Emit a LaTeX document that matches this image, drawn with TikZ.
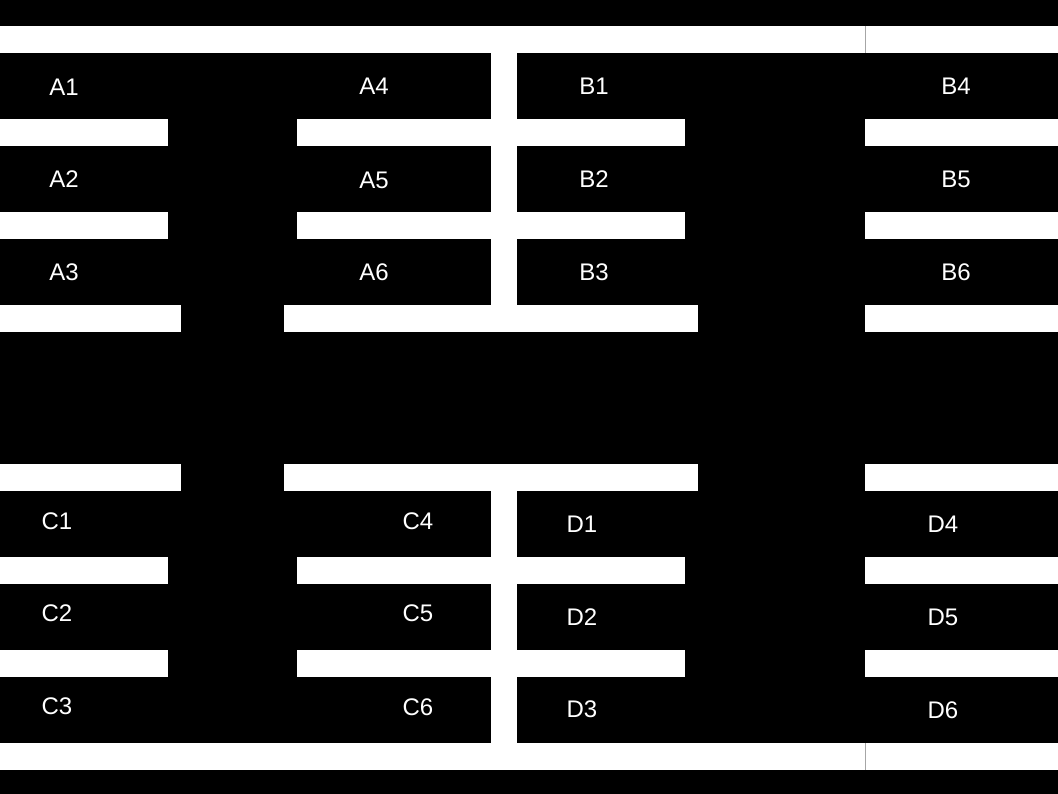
\documentclass[tikz,border=0pt]{standalone}
\usepackage{fontspec}
\setmainfont{Liberation Sans}
\tikzset{
  wall/.style={fill=white, draw=none},
  room/.style={text=white, font=\fontsize{24}{28}\selectfont, inner sep=0pt}
}
\begin{document}
\begin{tikzpicture}[x=1pt, y=-1pt]
  \fill[black] (0,0) rectangle (1058,794);
  \useasboundingbox (0,0) rectangle (1058,794);

  % outer walls and central spine
  \fill[wall] (0,26) rectangle (1058,53);
  \fill[wall] (0,743) rectangle (1058,770);
  \fill[wall] (491,53) rectangle (517,305);
  \fill[wall] (491,491) rectangle (517,743);
  \draw[gray!70, thin] (865,26) -- (865,53);
  \draw[gray!70, thin] (865,743) -- (865,770);

  % partitions between rooms
  \foreach \y in {119,212,557,650} {
    \fill[wall] (0,\y) rectangle (168,\y+27);
    \fill[wall] (297,\y) rectangle (685,\y+27);
    \fill[wall] (865,\y) rectangle (1058,\y+27);
  }
  \foreach \y in {305,464} {
    \fill[wall] (0,\y) rectangle (181,\y+27);
    \fill[wall] (284,\y) rectangle (698,\y+27);
    \fill[wall] (865,\y) rectangle (1058,\y+27);
  }

  % room labels
  \node[room] (a1) at (64,87) {A1};
  \node[room] (a2) at (64,179) {A2};
  \node[room] (a3) at (64,272) {A3};
  \node[room] (a4) at (374,86) {A4};
  \node[room] (a5) at (374,180) {A5};
  \node[room] (a6) at (374,272) {A6};
  \node[room] (b1) at (594,86) {B1};
  \node[room] (b2) at (594,179) {B2};
  \node[room] (b3) at (594,272) {B3};
  \node[room] (b4) at (956,86) {B4};
  \node[room] (b5) at (956,179) {B5};
  \node[room] (b6) at (956,272) {B6};

  \node[room] (c1) at (57,521) {C1};
  \node[room] (c2) at (57,613) {C2};
  \node[room] (c3) at (57,706) {C3};
  \node[room] (c4) at (418,521) {C4};
  \node[room] (c5) at (418,613) {C5};
  \node[room] (c6) at (418,707) {C6};
  \node[room] (d1) at (582,524) {D1};
  \node[room] (d2) at (582,617) {D2};
  \node[room] (d3) at (582,709) {D3};
  \node[room] (d4) at (943,524) {D4};
  \node[room] (d5) at (943,617) {D5};
  \node[room] (d6) at (943,710) {D6};
\end{tikzpicture}
\end{document}
